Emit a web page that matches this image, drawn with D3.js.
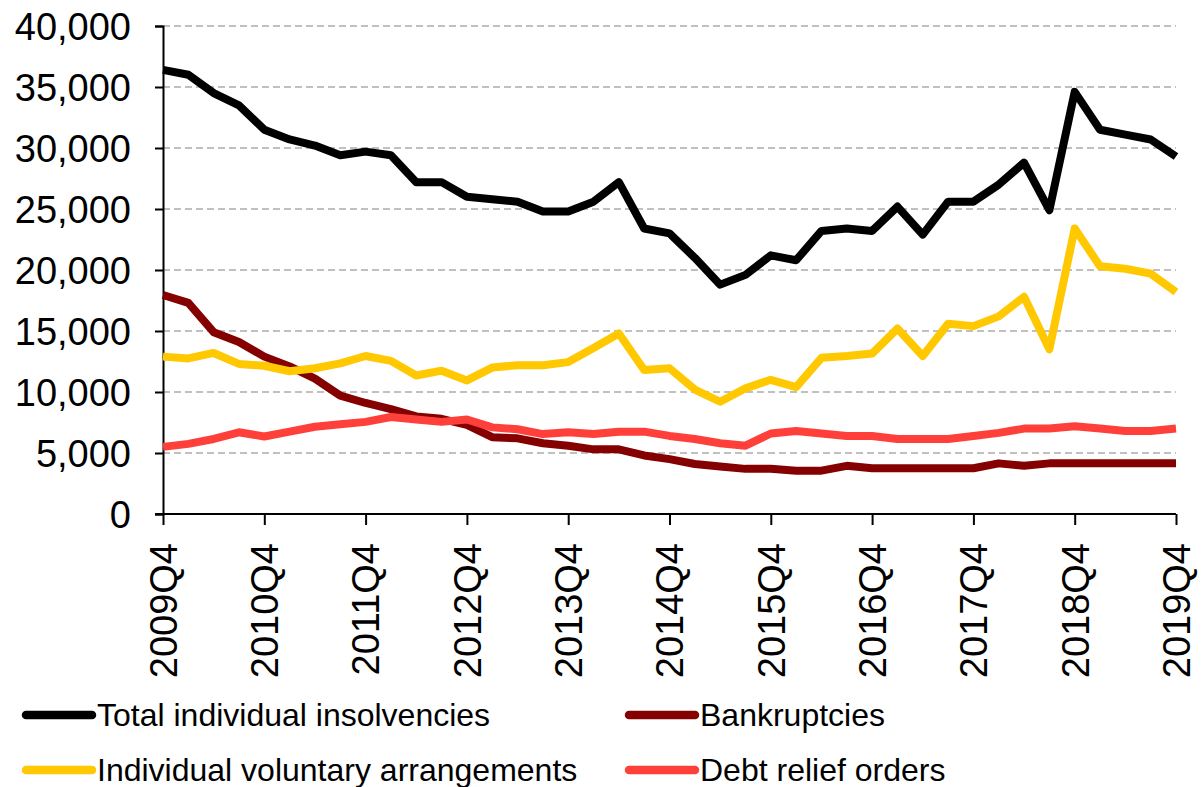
<!DOCTYPE html>
<html>
<head>
<meta charset="utf-8">
<script src="https://cdn.jsdelivr.net/npm/d3@7"></script>
<style>
body { margin: 0; background: #fff; }
text { font-family: "Liberation Sans", Arial, sans-serif; fill: #000; }
</style>
</head>
<body>
<div id="chart"></div>
<script>
var quarters = [];
for (var yr = 2009; yr <= 2019; yr++) {
	for (var q = 1; q <= 4; q++) {
		if (yr == 2009 && q < 4) continue;
		if (yr == 2019 && q > 4) continue;
		quarters.push(yr + "Q" + q);
	}
}
var yTicks = [0, 5000, 10000, 15000, 20000, 25000, 30000, 35000, 40000];

var total = [36400, 36000, 34500, 33500, 31500, 30700, 30200, 29400, 29700, 29400,
	27200, 27200, 26000, 25800, 25600, 24800, 24800, 25600, 27200, 23400,
	23000, 21000, 18800, 19600, 21200, 20800, 23200, 23400, 23200, 25200,
	22900, 25600, 25600, 27000, 28800, 24900, 34600, 31500, 31100, 30700, 29300];
var bankruptcies = [17950, 17300, 14900, 14100, 12900, 12100, 11100, 9700, 9100, 8600,
	8000, 7800, 7300, 6300, 6200, 5800, 5600, 5300, 5300, 4800,
	4500, 4100, 3900, 3700, 3700, 3550, 3550, 3950, 3750, 3750,
	3750, 3750, 3750, 4150, 3950, 4150, 4150, 4150, 4150, 4150, 4150];
var iva = [12900, 12750, 13200, 12300, 12150, 11700, 11950, 12350, 12950, 12550,
	11350, 11750, 10950, 12000, 12200, 12200, 12450, 13600, 14800, 11800,
	11950, 10200, 9200, 10300, 11000, 10400, 12800, 12950, 13150, 15200,
	12950, 15600, 15400, 16200, 17800, 13500, 23400, 20300, 20100, 19700, 18200];
var dro = [5500, 5750, 6150, 6700, 6350, 6750, 7150, 7350, 7550, 7950,
	7750, 7550, 7750, 7100, 6950, 6550, 6700, 6550, 6750, 6750,
	6400, 6150, 5800, 5600, 6600, 6800, 6600, 6400, 6400, 6150,
	6150, 6150, 6400, 6650, 7000, 7000, 7200, 7000, 6800, 6800, 7000];

var seriesNames = ["Total individual insolvencies", "Bankruptcies", "Individual voluntary arrangements", "Debt relief orders"];
var seriesData = [total, bankruptcies, iva, dro];
var seriesColors = ["#000000", "#850000", "#ffc800", "#ff403a"];

var W = 1203, H = 787;
var plotL = 163, plotR = 1176, plotT = 26, plotB = 514;

var svg = d3.select("#chart")
			.append("svg")
			.attr("width", W)
			.attr("height", H);

var x = d3.scalePoint().domain(quarters).range([plotL, plotR]);
var y = d3.scaleLinear().domain([0, 40000]).range([plotB, plotT]);

//gridlines
svg.selectAll(".grid")
	.data(yTicks.filter(function(d){ return d > 0; }))
	.enter().append("line")
	.attr("x1", plotL)
	.attr("x2", plotR)
	.attr("y1", function(d){ return y(d); })
	.attr("y2", function(d){ return y(d); })
	.style("stroke", "#c0c0c0")
	.style("stroke-width", 2)
	.style("stroke-dasharray", "7,4");

//y axis
var yAxis = svg.append("g")
	.attr("transform", "translate(" + plotL + ",0)")
	.call(d3.axisLeft(y).tickValues(yTicks).tickSize(8).tickPadding(24).tickFormat(d3.format(",")));
yAxis.select(".domain").style("stroke", "#000").style("stroke-width", 2);
yAxis.selectAll(".tick line").style("stroke", "#000").style("stroke-width", 2);
yAxis.selectAll("text").style("font-size", "38px").attr("dy", "0.35em");

//x axis
var xLabels = quarters.filter(function(d, i){ return i % 4 == 0; });
var xAxis = svg.append("g")
	.attr("transform", "translate(0," + plotB + ")")
	.call(d3.axisBottom(x).tickValues(xLabels).tickSize(11).tickSizeOuter(0));
xAxis.select(".domain").attr("d", "M" + (plotL - 8) + ",0H" + plotR).style("stroke", "#000").style("stroke-width", 2);
xAxis.selectAll(".tick line").style("stroke", "#000").style("stroke-width", 2);
xAxis.selectAll("text")
	.style("font-size", "38px")
	.attr("text-anchor", "end")
	.attr("transform", "rotate(-90)")
	.attr("x", -29)
	.attr("y", 0)
	.attr("dy", "0.35em");

//series lines
var line = d3.line()
	.x(function(d, i){ return x(quarters[i]); })
	.y(function(d){ return y(d); });

for (var s = 0; s < seriesData.length; s++) {
	svg.append("path")
		.attr("d", line(seriesData[s]))
		.style("fill", "none")
		.style("stroke", seriesColors[s])
		.style("stroke-width", 8)
		.style("stroke-linejoin", "round");
}

//legend
var legX = [22, 625], legY = [715, 770];
for (var k = 0; k < seriesNames.length; k++) {
	var lx = legX[k % 2], ly = legY[Math.floor(k / 2)];
	svg.append("line")
		.attr("x1", lx + 4)
		.attr("x2", lx + 70)
		.attr("y1", ly)
		.attr("y2", ly)
		.style("stroke", seriesColors[k])
		.style("stroke-width", 8.5)
		.style("stroke-linecap", "round");
	svg.append("text")
		.attr("x", lx + 75)
		.attr("y", ly + 11)
		.style("font-size", "32px")
		.text(seriesNames[k]);
}
</script>
</body>
</html>
